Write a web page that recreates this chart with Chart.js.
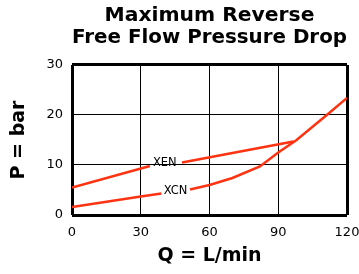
<!DOCTYPE html>
<html>
<head>
<meta charset="utf-8">
<title>Maximum Reverse Free Flow Pressure Drop</title>
<script src="https://cdn.jsdelivr.net/npm/chart.js@4"></script>
<style>
	body { margin: 0; background: #fff; }
	canvas { display: block; }
</style>
</head>
<body>
<canvas id="myChart" width="359" height="274"></canvas>
<script>
// flow (L/min) and pressure drop (bar), null = gap for the label
let flowXEN = [0, 34, 41, 48, 96.6];
let dropXEN = [5.5, 9.8, null, 10.5, 14.7];

let flowXCN = [0, 30, 39, 45, 51.5, 60, 70, 82, 90, 98, 111.7, 120];
let dropXCN = [1.6, 3.7, 4.3, null, 5.1, 6.0, 7.4, 9.7, 12.5, 15.0, 20.2, 23.4];

let curveNames = ["XEN", "XCN"];
let labelAt = [
	[35.3, 10.4],
	[40.0, 4.8],
];

let flowTicks = [0, 30, 60, 90, 120];
let dropTicks = [0, 10, 20, 30];

let red = "rgb(255, 51, 17)";
let font = "'DejaVu Sans', Verdana, sans-serif";

function points(xs, ys) {
	let out = [];
	for (let i = 0; i < xs.length; i++) {
		out.push({ x: xs[i], y: ys[i] });
	}
	return out;
}

// writes XEN / XCN next to their curves
let curveLabels = {
	id: "curveLabels",
	afterDatasetsDraw(chart) {
		let c = chart.ctx;
		let xs = chart.scales.x;
		let ys = chart.scales.y;
		c.save();
		c.font = "11.5px " + font;
		c.fillStyle = "#000";
		c.textAlign = "left";
		c.textBaseline = "middle";
		for (let i = 0; i < curveNames.length; i++) {
			c.fillText(curveNames[i], xs.getPixelForValue(labelAt[i][0]), ys.getPixelForValue(labelAt[i][1]));
		}
		c.restore();
	},
};

function edgeWidth(ctx, lo, hi) {
	if (ctx.tick && (ctx.tick.value === lo || ctx.tick.value === hi)) return 3;
	return 1;
}

var ctx = document.getElementById("myChart").getContext("2d");
var chart = new Chart(ctx, {
	type: "line",
	data: {
		datasets: [
			{
				label: curveNames[0],
				data: points(flowXEN, dropXEN),
				borderColor: red,
				borderWidth: 2.5,
				pointRadius: 0,
				tension: 0,
				spanGaps: false,
			},
			{
				label: curveNames[1],
				data: points(flowXCN, dropXCN),
				borderColor: red,
				borderWidth: 2.5,
				pointRadius: 0,
				tension: 0,
				spanGaps: false,
			},
		],
	},
	options: {
		responsive: false,
		animation: false,
		layout: { padding: 0 },
		plugins: {
			legend: { display: false },
			tooltip: { enabled: false },
			title: {
				display: true,
				fullSize: false,
				text: ["Maximum Reverse", "Free Flow Pressure Drop"],
				color: "#000",
				font: { family: font, size: 20.3, weight: "bold", lineHeight: 1.108 },
				padding: { top: 4, bottom: 16 },
			},
		},
		scales: {
			x: {
				type: "linear",
				min: 0,
				max: 120,
				afterBuildTicks: (s) => { s.ticks = flowTicks.map((v) => ({ value: v })); },
				afterFit: (s) => {
					s.height = 59;
					s.paddingRight = 12;
				},
				border: { display: false },
				grid: { color: "#000", lineWidth: (c) => edgeWidth(c, 0, 120), drawTicks: false },
				ticks: { color: "#000", padding: 10, maxRotation: 0, font: { family: font, size: 13 } },
				title: {
					display: true,
					text: "Q = L/min",
					color: "#000",
					font: { family: font, size: 19, weight: "bold" },
					padding: { top: 0, bottom: 6.5 },
				},
			},
			y: {
				min: 0,
				max: 30,
				afterBuildTicks: (s) => { s.ticks = dropTicks.map((v) => ({ value: v })); },
				afterFit: (s) => { s.width = 72; },
				border: { display: false },
				grid: { color: "#000", lineWidth: (c) => edgeWidth(c, 0, 30), drawTicks: false },
				ticks: { color: "#000", padding: 9, font: { family: font, size: 13 } },
				title: {
					display: true,
					text: "P = bar",
					color: "#000",
					font: { family: font, size: 19, weight: "bold" },
					padding: { top: 8, bottom: 0 },
				},
			},
		},
	},
	plugins: [curveLabels],
});
</script>
</body>
</html>
